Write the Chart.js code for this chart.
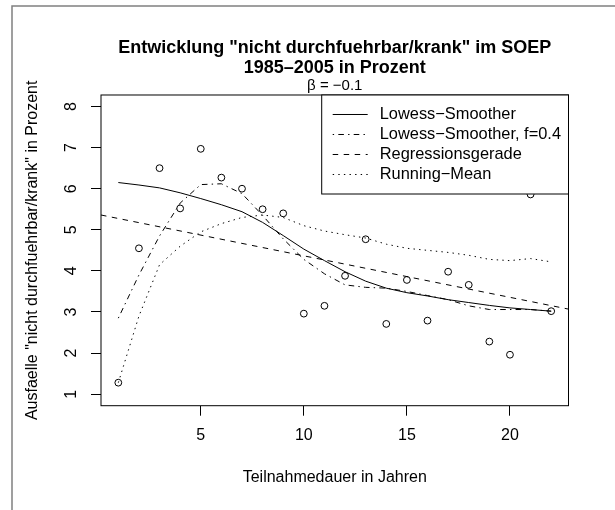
<!DOCTYPE html>
<html>
<head>
<meta charset="utf-8">
<script src="https://cdn.jsdelivr.net/npm/chart.js@4"></script>
<style>
    html, body { margin: 0; padding: 0; background: #fff; }
</style>
</head>
<body>
<canvas id="soep-chart" width="615" height="510"></canvas>
<script>
// Teilnahmedauer (Jahre) und Ausfaelle in Prozent
const years = [1, 2, 3, 4, 5, 6, 7, 8, 9, 10, 11, 12, 13, 14, 15, 16, 17, 18, 19, 20, 21, 22]
const ausfall = [1.28, 4.55, 6.50, 5.52, 6.97, 6.27, 6.00, 5.50, 5.40, 2.96, 3.15, 3.88, 4.77, 2.71, 3.78, 2.79, 3.98, 3.66, 2.28, 1.96, 5.86, 3.02]

// geglaettete Kurven
const lowess = [6.15, 6.09, 6.02, 5.90, 5.76, 5.61, 5.44, 5.18, 4.86, 4.53, 4.25, 3.98, 3.75, 3.58, 3.47, 3.39, 3.30, 3.23, 3.16, 3.10, 3.06, 3.02]
const lowessF04 = [2.85, 3.90, 4.85, 5.65, 6.10, 6.12, 5.88, 5.35, 4.78, 4.28, 3.93, 3.66, 3.60, 3.58, 3.50, 3.40, 3.30, 3.15, 3.06, 3.06, 3.06, 3.02]
const runMean = [1.28, 2.90, 4.15, 4.60, 4.95, 5.15, 5.30, 5.36, 5.30, 5.10, 4.97, 4.88, 4.80, 4.65, 4.55, 4.50, 4.45, 4.38, 4.28, 4.25, 4.30, 4.22]

// Regressionsgerade (beta = -0.1), Endpunkte am Plotrand
const regX = [0.16, 22.84]
const regY = [5.36, 3.07]

const xTicks = [5, 10, 15, 20]
const yTicks = [1, 2, 3, 4, 5, 6, 7, 8]

const legendLabels = ['Lowess\u2212Smoother', 'Lowess\u2212Smoother, f=0.4', 'Regressionsgerade', 'Running\u2212Mean']

Chart.defaults.font.family = "'Liberation Sans', Arial, Helvetica, sans-serif"
Chart.defaults.color = '#000'

function toXY(xs, ys)
{
    return xs.map(function (x, i) { return { x: x, y: ys[i] } })
}

const framePlugin = {
    id: 'frame',
    beforeDraw: function (chart)
    {
        const ctx = chart.ctx
        ctx.save()
        ctx.fillStyle = '#fff'
        ctx.fillRect(0, 0, chart.width, chart.height)
        ctx.strokeStyle = '#808080'
        ctx.lineWidth = 1.5
        ctx.beginPath()
        ctx.moveTo(12, chart.height)
        ctx.lineTo(12, 6)
        ctx.lineTo(chart.width, 6)
        ctx.stroke()
        ctx.restore()
    },
    afterDatasetsDraw: function (chart)
    {
        const a = chart.chartArea
        const ctx = chart.ctx
        ctx.save()
        ctx.strokeStyle = '#000'
        ctx.lineWidth = 1
        ctx.strokeRect(a.left, a.top, a.right - a.left, a.bottom - a.top)
        ctx.restore()
    }
}

const boxLegendPlugin = {
    id: 'boxLegend',
    afterDraw: function (chart)
    {
        const a = chart.chartArea
        const ctx = chart.ctx
        const left = 321.7
        const bottom = 194
        ctx.save()
        ctx.fillStyle = '#fff'
        ctx.fillRect(left, a.top, a.right - left, bottom - a.top)
        ctx.strokeStyle = '#000'
        ctx.lineWidth = 1
        ctx.strokeRect(left, a.top, a.right - left, bottom - a.top)

        const lineSets = chart.data.datasets.filter(function (ds) { return ds.showLine })
        ctx.font = "16.4px 'Liberation Sans', Arial, sans-serif"
        ctx.textBaseline = 'middle'
        ctx.fillStyle = '#000'
        lineSets.forEach(function (ds, i) {
            const y = a.top + 19.5 + i * 20
            ctx.setLineDash(ds.borderDash || [])
            ctx.lineWidth = ds.borderWidth
            ctx.beginPath()
            ctx.moveTo(left + 11, y)
            ctx.lineTo(left + 46, y)
            ctx.stroke()
            ctx.setLineDash([])
            ctx.fillText(ds.label, left + 58, y)
        })
        ctx.restore()
    }
}

const lineStyle = { showLine: true, pointRadius: 0, borderColor: '#000', borderWidth: 1, tension: 0, fill: false }

new Chart('soep-chart', {
    type: 'scatter',
    data: {
        datasets: [
            {
                label: 'Ausfaelle',
                data: toXY(years, ausfall),
                showLine: false,
                pointStyle: 'circle',
                pointRadius: 3.4,
                pointBorderWidth: 1,
                pointBorderColor: '#000',
                pointBackgroundColor: 'rgba(0,0,0,0)'
            },
            Object.assign({}, lineStyle, { label: legendLabels[0], data: toXY(years, lowess) }),
            Object.assign({}, lineStyle, { label: legendLabels[1], data: toXY(years, lowessF04), borderDash: [1.4, 4.2, 5.6, 4.2] }),
            Object.assign({}, lineStyle, { label: legendLabels[2], data: toXY(regX, regY), borderDash: [5.5, 5.5] }),
            Object.assign({}, lineStyle, { label: legendLabels[3], data: toXY(years, runMean), borderDash: [1.4, 4.2] })
        ]
    },
    options: {
        responsive: false,
        animation: false,
        layout: { padding: { top: 0, left: 0, right: 46.5, bottom: 0 } },
        plugins: {
            legend: { display: false },
            tooltip: { enabled: false },
            title: {
                display: true,
                fullSize: false,
                text: ['Entwicklung "nicht durchfuehrbar/krank" im SOEP', '1985\u20132005 in Prozent'],
                font: { size: 18, weight: 'bold', lineHeight: 1.111 },
                color: '#000',
                padding: { top: 38, bottom: 0 }
            },
            subtitle: {
                display: true,
                fullSize: false,
                text: '\u03b2 = \u22120.1',
                font: { size: 15, lineHeight: 1.1 },
                color: '#000',
                padding: { top: 0, bottom: 0.5 }
            }
        },
        scales: {
            x: {
                type: 'linear',
                min: 0.16,
                max: 22.84,
                afterBuildTicks: function (s) { s.ticks = xTicks.map(function (v) { return { value: v } }) },
                afterFit: function (s) { s.height = 104.3 },
                grid: { drawOnChartArea: false, drawTicks: true, tickLength: 10, tickColor: '#000', color: '#000' },
                border: { display: false },
                ticks: { maxRotation: 0, padding: 10, color: '#000', font: { size: 16 } },
                title: {
                    display: true,
                    text: 'Teilnahmedauer in Jahren',
                    color: '#000',
                    font: { size: 16 },
                    padding: { top: 0, bottom: 23 }
                }
            },
            y: {
                min: 0.72,
                max: 8.28,
                afterBuildTicks: function (s) { s.ticks = yTicks.map(function (v) { return { value: v } }) },
                afterFit: function (s) { s.width = 101 },
                grid: { drawOnChartArea: false, drawTicks: true, tickLength: 10, tickColor: '#000', color: '#000' },
                border: { display: false },
                ticks: { minRotation: 90, maxRotation: 90, crossAlign: 'center', padding: 14.5, autoSkip: false, color: '#000', font: { size: 16 } },
                title: {
                    display: true,
                    text: 'Ausfaelle "nicht durchfuehrbar/krank" in Prozent',
                    color: '#000',
                    font: { size: 16 },
                    padding: { top: 23, bottom: 0 }
                }
            }
        }
    },
    plugins: [framePlugin, boxLegendPlugin]
})
</script>
</body>
</html>
